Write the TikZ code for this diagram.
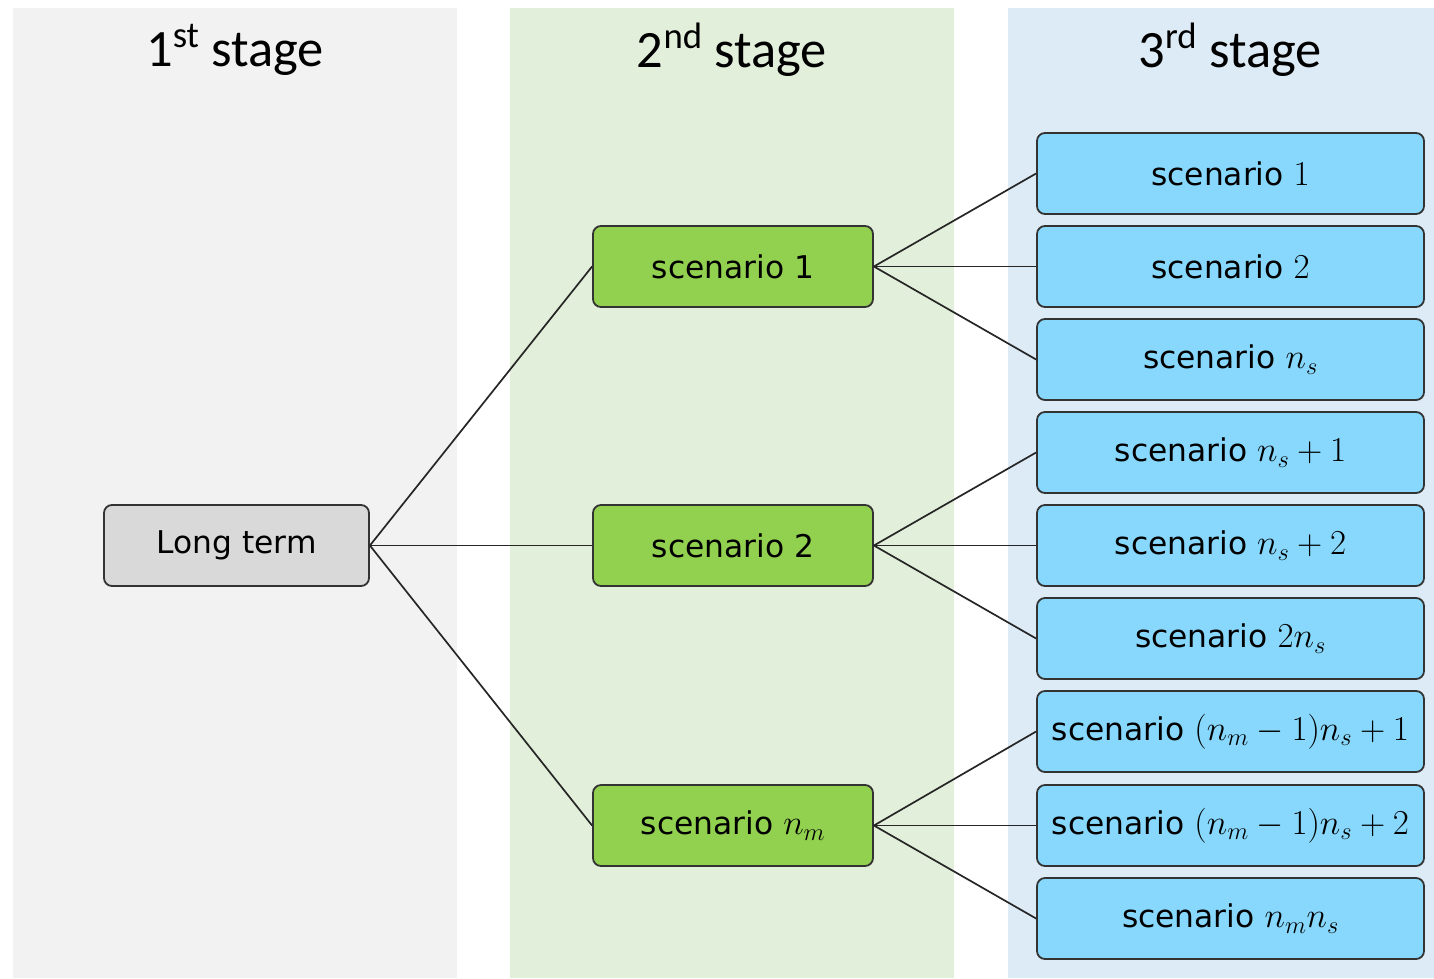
\RequirePackage{fix-cm}
\documentclass[tikz,border=0pt]{standalone}
\usepackage{fontspec}
\setmainfont{DejaVu Sans}
\newfontfamily\headfont{Carlito}
\newcommand{\mth}[1]{{\fontsize{35}{40}\selectfont$#1$}}
\begin{document}
\begin{tikzpicture}[x=1pt,y=-1pt,
  box/.style={draw=black!80, line width=1.8pt, rounded corners=8pt, minimum height=81pt, inner sep=0pt, font=\fontsize{31.3}{37}\selectfont, text=black},
  ltbox/.style={box, fill=gray!30, minimum width=265pt},
  gbox/.style={box, fill=green2, minimum width=280pt},
  bbox/.style={box, fill=blue2, minimum width=387pt},
  link/.style={draw=black!85, line width=1.7pt},
  head/.style={font=\headfont\fontsize{52.5}{60}\selectfont, text=black, inner sep=0pt}
]
\definecolor{green2}{HTML}{92D050}
\definecolor{blue2}{HTML}{87D8FC}
\definecolor{bg1}{HTML}{F2F2F2}
\definecolor{bg2}{HTML}{E2EFDA}
\definecolor{bg3}{HTML}{DDEBF7}
\useasboundingbox (0,0) rectangle (1434,978);
\fill[white] (0,0) rectangle (1434,978);
\fill[bg1] (13,8) rectangle (457,978);
\fill[bg2] (510,8) rectangle (954,978);
\fill[bg3] (1008,8) rectangle (1434,978);

\node[head] (h1) at (235,50) {1\textsuperscript{st} stage};
\node[head] (h2) at (732,50) {2\textsuperscript{nd} stage};
\node[head] (h3) at (1230,50) {3\textsuperscript{rd} stage};

\node[ltbox] (lt) at (236.5,545.5) {Long term};

\node[gbox] (g1) at (733,266.5) {scenario 1};
\node[gbox] (g2) at (733,545.5) {scenario 2};
\node[gbox] (g3) at (733,825.5) {scenario \mth{n_m}};

\node[bbox] (b1) at (1230.5,173.5) {scenario \mth{1}};
\node[bbox] (b2) at (1230.5,266.5) {scenario \mth{2}};
\node[bbox] (b3) at (1230.5,359.5) {scenario \mth{n_s}};
\node[bbox] (b4) at (1230.5,452.5) {scenario \mth{n_s+1}};
\node[bbox] (b5) at (1230.5,545.5) {scenario \mth{n_s+2}};
\node[bbox] (b6) at (1230.5,638.5) {scenario \mth{2n_s}};
\node[bbox] (b7) at (1230.5,731.5) {scenario \mth{(n_m-1)n_s+1}};
\node[bbox] (b8) at (1230.5,825.5) {scenario \mth{(n_m-1)n_s+2}};
\node[bbox] (b9) at (1230.5,918.5) {scenario \mth{n_mn_s}};

\foreach \g in {g1,g2,g3} \draw[link] (lt.east) -- (\g.west);
\foreach \b in {b1,b2,b3} \draw[link] (g1.east) -- (\b.west);
\foreach \b in {b4,b5,b6} \draw[link] (g2.east) -- (\b.west);
\foreach \b in {b7,b8,b9} \draw[link] (g3.east) -- (\b.west);
\end{tikzpicture}
\end{document}
